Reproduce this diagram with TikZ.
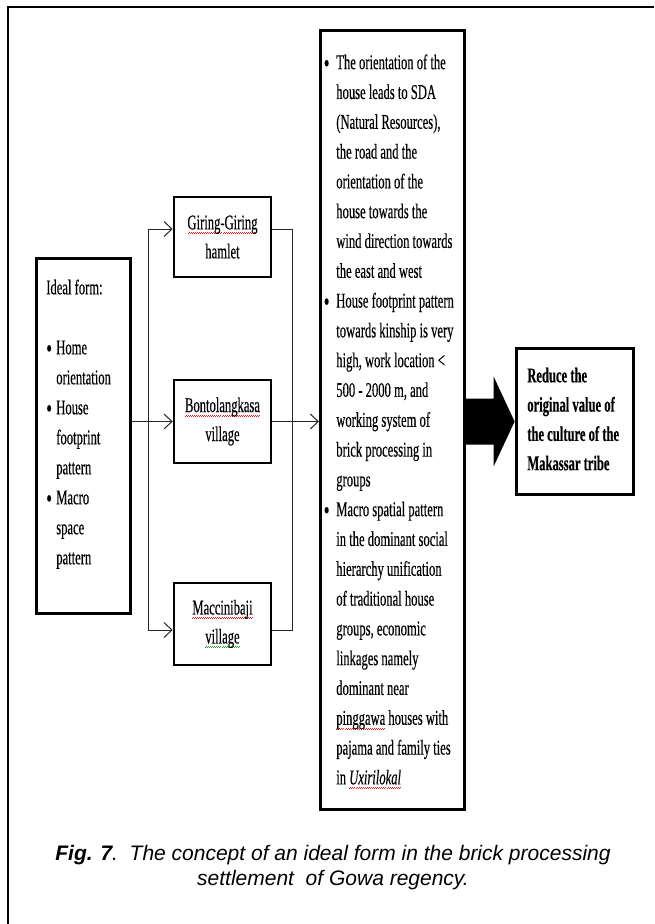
\documentclass[tikz,border=0pt]{standalone}
\usepackage{fontspec}
\usetikzlibrary{arrows.meta,calc}
\setmainfont{Liberation Serif}
\newfontfamily\dfont[FakeStretch=0.6,FakeBold=0.3]{Liberation Serif}
\newfontfamily\capfont{Liberation Sans}
\definecolor{spellred}{RGB}{225,30,30}
\definecolor{spellgreen}{RGB}{40,160,40}
\newcommand\wavestep{\hbox{\rule[-4.6pt]{1pt}{0.7pt}\rule[-3.6pt]{1pt}{0.7pt}}}
\newcommand\spellwave[2]{\setbox0\hbox{#2}\rlap{\color{#1}\hbox to \wd0{\xleaders\wavestep\hfil}}\box0\relax}
\newcommand\redwave[1]{\spellwave{spellred}{#1}}
\newcommand\greenwave[1]{\spellwave{spellgreen}{#1}}
\newcommand\Ln[1]{\hbox to \hsize{\strut#1\hfil}}
\newcommand\bul{\raisebox{-3pt}{\fontsize{27}{30}\selectfont •}}
\begin{document}
\begin{tikzpicture}[x=1pt,y=-1pt,
  boxst/.style={draw=black, line width=2.6pt, inner sep=0pt},
  conn/.style={draw=black!85, line width=1pt},
  arr/.style={conn, -{Straight Barb[length=8pt,width=15pt]}},
  midbox/.style={boxst, minimum width=97pt, align=center, font=\dfont\fontsize{21}{29}\selectfont}]
\useasboundingbox (0,0) rectangle (654,924);
% outer frame
\coordinate (fbl) at (8,924);
\coordinate (ftl) at (8,7);
\coordinate (ftr) at (654,7);
\draw[line width=2.4pt] (fbl) -- (ftl) -- (ftr);

% left box
\node[boxst, anchor=north west] (ideal) at (35,257) {\parbox[c][355pt][t]{94pt}{\dfont\fontsize{21}{30}\selectfont
  \vspace*{15pt}
  \Ln{\hspace*{10pt}Ideal form:}
  \Ln{}
  \Ln{\hspace*{10pt}\makebox[10pt][l]{\bul}Home}
  \Ln{\hspace*{20pt}orientation}
  \Ln{\hspace*{10pt}\makebox[10pt][l]{\bul}House}
  \Ln{\hspace*{20pt}footprint}
  \Ln{\hspace*{20pt}pattern}
  \Ln{\hspace*{10pt}\makebox[10pt][l]{\bul}Macro}
  \Ln{\hspace*{20pt}space}
  \Ln{\hspace*{20pt}pattern}
}};

% middle boxes
\node[midbox, minimum height=80pt] (giring) at (222.5,237) {\redwave{Giring-Giring}\\hamlet};
\node[midbox, minimum height=83pt] (bonto) at (222.5,421.5) {\redwave{Bontolangkasa}\\village};
\node[midbox, minimum height=82pt] (macc) at (222.5,624) {\redwave{Maccinibaji}\\\greenwave{village}};

% big text box
\node[boxst, anchor=north west] (big) at (319,29) {\parbox[c][779pt][t]{144pt}{\dfont\fontsize{21}{29.8}\selectfont
  \vspace*{18pt}
  \Ln{\hspace*{3.5pt}\makebox[12.5pt][l]{\bul}The orientation of the}
  \Ln{\hspace*{16pt}house leads to SDA}
  \Ln{\hspace*{16pt}(Natural Resources),}
  \Ln{\hspace*{16pt}the road and the}
  \Ln{\hspace*{16pt}orientation of the}
  \Ln{\hspace*{16pt}house towards the}
  \Ln{\hspace*{16pt}wind direction towards}
  \Ln{\hspace*{16pt}the east and west}
  \Ln{\hspace*{3.5pt}\makebox[12.5pt][l]{\bul}House footprint pattern}
  \Ln{\hspace*{16pt}towards kinship is very}
  \Ln{\hspace*{16pt}high, work location <}
  \Ln{\hspace*{16pt}500 - 2000 m, and}
  \Ln{\hspace*{16pt}working system of}
  \Ln{\hspace*{16pt}brick processing in}
  \Ln{\hspace*{16pt}groups}
  \Ln{\hspace*{3.5pt}\makebox[12.5pt][l]{\bul}Macro spatial pattern}
  \Ln{\hspace*{16pt}in the dominant social}
  \Ln{\hspace*{16pt}hierarchy unification}
  \Ln{\hspace*{16pt}of traditional house}
  \Ln{\hspace*{16pt}groups, economic}
  \Ln{\hspace*{16pt}linkages namely}
  \Ln{\hspace*{16pt}dominant near}
  \Ln{\hspace*{16pt}\redwave{pinggawa} houses with}
  \Ln{\hspace*{16pt}pajama and family ties}
  \Ln{\hspace*{16pt}in \redwave{\itshape Uxirilokal}}
}};

% result box
\node[boxst, anchor=north west] (res) at (515,347) {\parbox[c][146pt][t]{117pt}{\dfont\bfseries\fontsize{21}{29.3}\selectfont
  \vspace*{13.5pt}
  \Ln{\hspace*{11pt}Reduce the}
  \Ln{\hspace*{11pt}original value of}
  \Ln{\hspace*{11pt}the culture of the}
  \Ln{\hspace*{11pt}Makassar tribe}
}};

% connectors
\coordinate (jl) at (148,421.5);
\coordinate (jr) at (292,421.5);
\draw[arr] (ideal.east |- bonto.west) -- (bonto.west);
\draw[arr] (jl) |- ([yshift=8pt]giring.west);
\draw[arr] (jl) |- ([yshift=-6pt]macc.west);
\draw[conn] ([yshift=8pt]giring.east) -| (jr);
\draw[conn] ([yshift=-6pt]macc.east) -| (jr);
\draw[arr] (bonto.east) -- (bonto.east -| big.west);

% big black arrow
\coordinate (at) at (big.east |- bonto.east);
\fill[black] (at) ++(0,-23) -- ++(28,0) -- ++(0,-22) -- ++(21,45) -- ++(-21,45) -- ++(0,-22) -- ++(-28,0) -- cycle;

% caption
\node[font=\capfont\itshape\fontsize{21}{25}\selectfont, align=center, inner sep=0pt] (cap) at (333,868)
  {\textbf{Fig. 7}.\ \ The concept of an ideal form in the brick processing\\settlement\ \ of Gowa regency.};
\end{tikzpicture}
\end{document}
